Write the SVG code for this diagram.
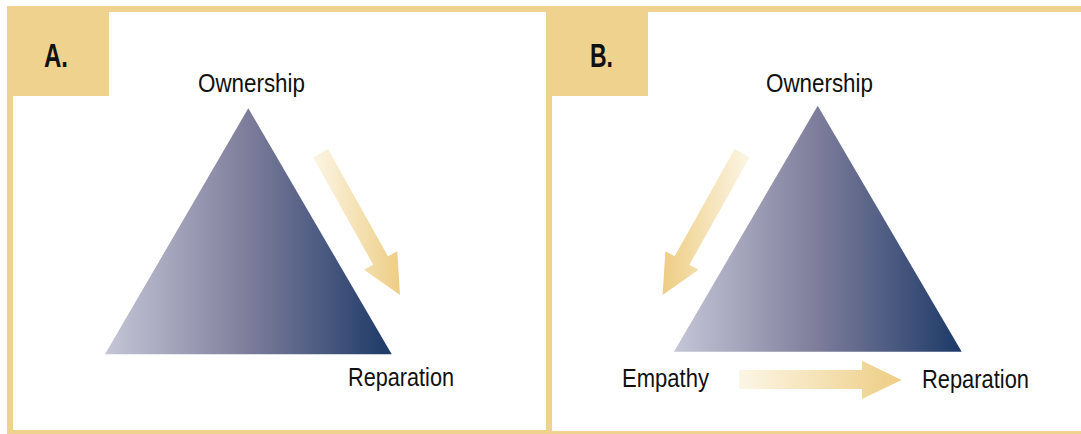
<svg xmlns="http://www.w3.org/2000/svg" width="1081" height="434" viewBox="0 0 1081 434">
  <style>
    .gold { fill: #efd28d; }
    .lbl { font-family: "Liberation Sans", Arial, sans-serif; font-size: 26px; fill: #111111; }
    .hdr { font-family: "Liberation Sans", Arial, sans-serif; font-size: 33px; font-weight: bold; fill: #111111; }
  </style>
  <defs>
    <linearGradient id="triA" gradientUnits="userSpaceOnUse" x1="105" y1="0" x2="392" y2="0">
      <stop offset="0" stop-color="#c6c6d8"/>
      <stop offset="0.5" stop-color="#7d7d9b"/>
      <stop offset="1" stop-color="#1c3967"/>
    </linearGradient>
    <linearGradient id="triB" gradientUnits="userSpaceOnUse" x1="674" y1="0" x2="962" y2="0">
      <stop offset="0" stop-color="#c6c6d8"/>
      <stop offset="0.5" stop-color="#7d7d9b"/>
      <stop offset="1" stop-color="#1c3967"/>
    </linearGradient>
    <linearGradient id="arrA" gradientUnits="userSpaceOnUse" x1="313" y1="0" x2="400" y2="0">
      <stop offset="0" stop-color="#fcf6e6"/>
      <stop offset="1" stop-color="#eecd84"/>
    </linearGradient>
    <linearGradient id="arrB" gradientUnits="userSpaceOnUse" x1="750" y1="0" x2="663" y2="0">
      <stop offset="0" stop-color="#fcf6e6"/>
      <stop offset="1" stop-color="#eecd84"/>
    </linearGradient>
    <linearGradient id="arrC" gradientUnits="userSpaceOnUse" x1="739" y1="0" x2="902" y2="0">
      <stop offset="0" stop-color="#fcf6e6"/>
      <stop offset="1" stop-color="#eecd84"/>
    </linearGradient>
  </defs>

  <rect width="1081" height="434" fill="#ffffff"/>

  <!-- frames -->
  <g id="frames">
    <rect class="gold" x="7" y="6" width="1074" height="6"/>
    <rect class="gold" x="7" y="6" width="6" height="428"/>
    <rect class="gold" x="546" y="6" width="6" height="428"/>
    <rect class="gold" x="7" y="430" width="545" height="4"/>
    <rect class="gold" x="552" y="431" width="529" height="3"/>
  </g>

  <g id="label-A">
    <rect class="gold" x="7" y="6" width="102" height="90"/>
    <text class="hdr" x="44" y="67" textLength="24" lengthAdjust="spacingAndGlyphs">A.</text>
  </g>
  <g id="label-B">
    <rect class="gold" x="546" y="6" width="102" height="90"/>
    <text class="hdr" x="590" y="67" textLength="23" lengthAdjust="spacingAndGlyphs">B.</text>
  </g>

  <g id="triangle-A">
    <polygon points="248.3,108.3 391.7,354.3 105,354.3" fill="url(#triA)"/>
  </g>
  <g id="triangle-B">
    <polygon points="817.7,105.7 961.7,351.7 674,351.7" fill="url(#triB)"/>
  </g>

  <g id="A-ownership"><text class="lbl" x="198" y="92" textLength="107" lengthAdjust="spacingAndGlyphs">Ownership</text></g>
  <g id="A-reparation"><text class="lbl" x="348" y="386" textLength="106" lengthAdjust="spacingAndGlyphs">Reparation</text></g>
  <g id="B-ownership"><text class="lbl" x="766" y="92" textLength="107" lengthAdjust="spacingAndGlyphs">Ownership</text></g>
  <g id="B-empathy"><text class="lbl" x="622" y="387" textLength="87" lengthAdjust="spacingAndGlyphs">Empathy</text></g>
  <g id="B-reparation"><text class="lbl" x="922" y="388" textLength="107" lengthAdjust="spacingAndGlyphs">Reparation</text></g>

  <g id="connectors">
    <polygon points="327.9,149.1 388.0,256.3 397.2,251.2 400,295 364.0,269.8 373.2,264.7 313.1,157.5" fill="url(#arrA)"/>
    <polygon points="734.7,149.1 674.6,256.3 665.4,251.2 662.6,295 698.6,269.8 689.4,264.7 749.5,157.5" fill="url(#arrB)"/>
    <polygon points="739,370 862,370 862,360.7 901.6,380 862,399 862,389 739,389" fill="url(#arrC)"/>
  </g>
</svg>
